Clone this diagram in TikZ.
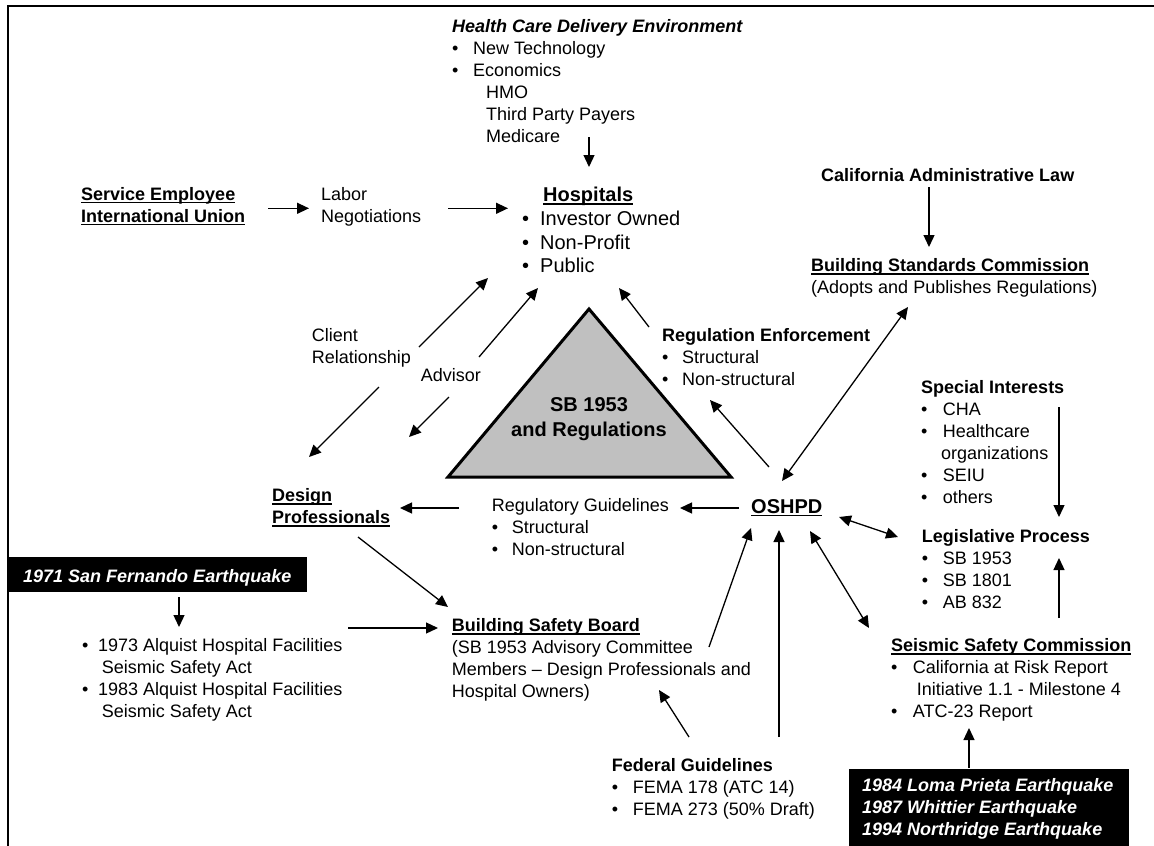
\documentclass[tikz,border=0pt]{standalone}
\usepackage{fontspec}
\setmainfont{Liberation Sans}
\usetikzlibrary{arrows.meta}
\definecolor{trigray}{RGB}{192,192,192}
\newcommand\VT[1]{\vtop{\halign{##\hfil\cr#1\crcr}}}
\newcommand\VC[1]{\vtop{\halign{\hfil##\hfil\cr#1\crcr}}}
\newcommand\ULN[1]{\setbox0\hbox{#1}\rlap{\rule[-3pt]{\wd0}{1.4pt}}\box0}
\newcommand\BL[2]{\makebox[#1][l]{•}#2}
\begin{document}
\begin{tikzpicture}[x=1pt,y=-1pt,
  txt/.style={anchor=base west, inner sep=0pt, font=\fontsize{18}{22}\selectfont},
  big/.style={anchor=base west, inner sep=0pt, font=\fontsize{20}{23.7}\selectfont},
  arr/.style={line width=1.3pt, -{Triangle[length=12pt,width=11pt]}},
  darr/.style={line width=1.3pt, {Triangle[length=12pt,width=11pt]}-{Triangle[length=12pt,width=11pt]}},
  blackbox/.style={fill=black, draw=none}]
\useasboundingbox (0,0) rectangle (1154,846);
\fill[white] (0,0) rectangle (1154,846);
% frame
\draw[line width=2pt] (7.5,846) -- (7.5,6) -- (1154,6);

% triangle
\draw[line width=3pt, fill=trigray, line join=miter] (589,309) -- (731,477) -- (448,477) -- cycle;
\node[anchor=base, inner sep=0pt, font=\fontsize{20}{24.3}\selectfont\bfseries] (sb) at (589,411.7) {\VC{SB 1953\cr and Regulations}};

% text nodes
\node[txt] (hcde) at (452,32) {\VT{\textbf{\textit{Health Care Delivery Environment}}\cr
  \BL{21pt}{New Technology}\cr \BL{21pt}{Economics}\cr \hspace*{34pt}HMO\cr \hspace*{34pt}Third Party Payers\cr \hspace*{34pt}Medicare}};
\node[big] (hosp) at (522,201.7) {\VT{\hspace*{21pt}\ULN{\textbf{Hospitals}}\cr
  \BL{18pt}{Investor Owned}\cr \BL{18pt}{Non-Profit}\cr \BL{18pt}{Public}}};
\node[txt] (seiu) at (81,200) {\VT{\ULN{\textbf{Service Employee}}\cr \ULN{\textbf{International Union}}}};
\node[txt] (labor) at (321,200) {\VT{Labor\cr Negotiations}};
\node[txt] (cal) at (821,181.7) {\textbf{California Administrative Law}};
\node[txt] (bsc) at (811,271.7) {\VT{\ULN{\textbf{Building Standards Commission}}\cr (Adopts and Publishes Regulations)}};
\node[txt] (regenf) at (662,341.7) {\VT{\textbf{Regulation Enforcement}\cr \BL{20pt}{Structural}\cr \BL{20pt}{Non-structural}}};
\node[txt] (client) at (311.7,341.7) {\VT{Client\cr Relationship}};
\node[txt] (advisor) at (420.7,381.7) {Advisor};
\node[txt] (design) at (272,501.7) {\VT{\ULN{\textbf{Design}}\cr \ULN{\textbf{Professionals}}}};
\node[txt] (regguide) at (491.7,511) {\VT{Regulatory Guidelines\cr \BL{20pt}{Structural}\cr \BL{20pt}{Non-structural}}};
\node[big] (oshpd) at (751,513) {\ULN{\textbf{OSHPD}}};
\node[txt] (specint) at (921,393.3) {\VT{\textbf{Special Interests}\cr \BL{21.7pt}{CHA}\cr \BL{21.7pt}{Healthcare}\cr \hspace*{20pt}organizations\cr \BL{21.7pt}{SEIU}\cr \BL{21.7pt}{others}}};
\node[txt] (legis) at (921.7,542.7) {\VT{\textbf{Legislative Process}\cr \BL{21pt}{SB 1953}\cr \BL{21pt}{SB 1801}\cr \BL{21pt}{AB 832}}};
\node[txt] (ssc) at (891,651.7) {\VT{\ULN{\textbf{Seismic Safety Commission}}\cr \BL{21.7pt}{California at Risk Report}\cr \hspace*{25.7pt}Initiative 1.1 - Milestone 4\cr \BL{21.7pt}{ATC-23 Report}}};
\node[txt] (fed) at (611.7,771.7) {\VT{\textbf{Federal Guidelines}\cr \BL{21pt}{FEMA 178 (ATC 14)}\cr \BL{21pt}{FEMA 273 (50\% Draft)}}};
\node[txt] (bsb) at (451.7,631.7) {\VT{\ULN{\textbf{Building Safety Board}}\cr (SB 1953 Advisory Committee\cr Members – Design Professionals and\cr Hospital Owners)}};
\node[txt] (alquist) at (82,651.7) {\VT{\BL{16pt}{1973 Alquist Hospital Facilities}\cr \hspace*{19.7pt}Seismic Safety Act\cr \BL{16pt}{1983 Alquist Hospital Facilities}\cr \hspace*{19.7pt}Seismic Safety Act}};

% black boxes
\fill[blackbox] (7.5,557) rectangle (307,592);
\node[txt, text=white] (sf) at (23,582) {\textbf{\textit{1971 San Fernando Earthquake}}};
\fill[blackbox] (849,769) rectangle (1129,846);
\node[txt, text=white] (eq) at (862,791.7) {\VT{\textbf{\textit{1984 Loma Prieta Earthquake}}\cr \textbf{\textit{1987 Whittier Earthquake}}\cr \textbf{\textit{1994 Northridge Earthquake}}}};

% connector end points
\coordinate (seiuO) at (268,208.3);   \coordinate (laborI) at (309,208.3);
\coordinate (laborO) at (448,208.3);  \coordinate (hospL) at (508,208.3);
\coordinate (hcdeO) at (589,137);     \coordinate (hospT) at (589,167);
\coordinate (calO) at (929,187);      \coordinate (bscT) at (929,247);
\coordinate (oshpdNE) at (782,481);   \coordinate (bscB) at (908,307);
\coordinate (regenfO) at (649,327);   \coordinate (hospR) at (619,288);
\coordinate (oshpdN) at (769,467);    \coordinate (regenfI) at (710,400);
\coordinate (clientU) at (419,347);   \coordinate (hospC) at (488,278);
\coordinate (advisorU) at (479,357);  \coordinate (hospA) at (538,288);
\coordinate (clientD) at (379,387);   \coordinate (designC) at (309,457);
\coordinate (advisorD) at (449,397);  \coordinate (designA) at (409,437);
\coordinate (regguideO) at (459,508); \coordinate (designR) at (400,508);
\coordinate (oshpdW) at (739,508);    \coordinate (regguideI) at (680,508);
\coordinate (oshpdE) at (839,517);    \coordinate (legisW) at (898,537);
\coordinate (oshpdSE) at (810,531);   \coordinate (sscNW) at (869,628);
\coordinate (bsbO) at (709,647);      \coordinate (oshpdSW) at (751,528);
\coordinate (fedO) at (779,737);      \coordinate (oshpdS) at (779,530);
\coordinate (fedO2) at (689,737);     \coordinate (bsbB) at (659,690);
\coordinate (designO) at (358,537);   \coordinate (bsbNW) at (448,607);
\coordinate (alquistO) at (348,628);  \coordinate (bsbW) at (438,628);
\coordinate (sfO) at (179,597);       \coordinate (alquistT) at (179,627);
\coordinate (specO) at (1059,407);    \coordinate (legisT) at (1059,517);
\coordinate (sscO) at (1059,618);     \coordinate (legisB) at (1059,558);
\coordinate (eqO) at (969,768);       \coordinate (sscB) at (969,728);

% connectors
\draw[arr] (seiuO) -- (laborI);
\draw[arr] (laborO) -- (hospL);
\draw[arr] (hcdeO) -- (hospT);
\draw[arr] (calO) -- (bscT);
\draw[darr] (oshpdNE) -- (bscB);
\draw[arr] (regenfO) -- (hospR);
\draw[arr] (oshpdN) -- (regenfI);
\draw[arr] (clientU) -- (hospC);
\draw[arr] (advisorU) -- (hospA);
\draw[arr] (clientD) -- (designC);
\draw[arr] (advisorD) -- (designA);
\draw[arr] (regguideO) -- (designR);
\draw[arr] (oshpdW) -- (regguideI);
\draw[darr] (oshpdE) -- (legisW);
\draw[darr] (oshpdSE) -- (sscNW);
\draw[arr] (bsbO) -- (oshpdSW);
\draw[arr] (fedO) -- (oshpdS);
\draw[arr] (fedO2) -- (bsbB);
\draw[arr] (designO) -- (bsbNW);
\draw[arr] (alquistO) -- (bsbW);
\draw[arr] (sfO) -- (alquistT);
\draw[arr] (specO) -- (legisT);
\draw[arr] (sscO) -- (legisB);
\draw[arr] (eqO) -- (sscB);
\end{tikzpicture}
\end{document}
